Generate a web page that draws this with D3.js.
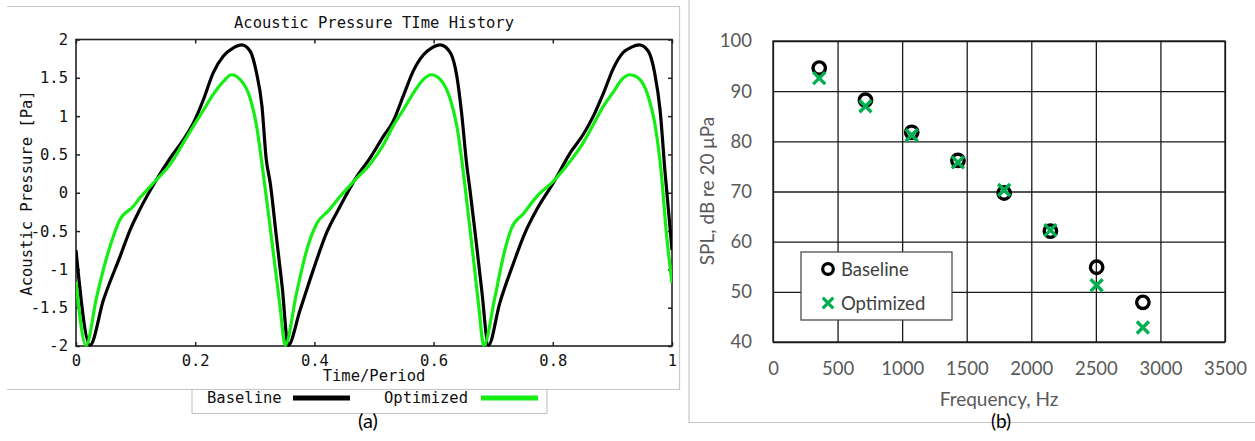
<!DOCTYPE html>
<html>
<head>
<meta charset="utf-8">
<script src="https://cdn.jsdelivr.net/npm/d3@7"></script>
<style>
  body { margin: 0; background: #fff; }
  svg { display: block; }
  .mono { font-family: "DejaVu Sans Mono", monospace; }
  .cal { font-family: Lato, "Open Sans", sans-serif; }
</style>
</head>
<body>
<svg id="fig" width="1255" height="441"></svg>
<script>
// (a) acoustic pressure time history, [time/period, pressure Pa]
var baseline = [
  [0, -0.75], [0.0235, -1.99], [0.046, -1.40], [0.074, -0.83], [0.091, -0.48], [0.107, -0.22],
  [0.135, 0.17], [0.158, 0.45], [0.18, 0.69], [0.197, 0.91], [0.214, 1.22], [0.230, 1.56],
  [0.247, 1.78], [0.264, 1.89], [0.278, 1.93], [0.292, 1.85], [0.303, 1.56], [0.312, 1.13],
  [0.319, 0.45], [0.326, 0.12], [0.336, -0.56], [0.346, -1.23], [0.356, -1.99],
  [0.376, -1.53], [0.398, -1.01], [0.42, -0.53], [0.443, -0.18], [0.471, 0.21], [0.493, 0.45],
  [0.516, 0.74], [0.532, 0.93], [0.549, 1.26], [0.566, 1.59], [0.583, 1.80], [0.597, 1.89],
  [0.611, 1.93], [0.628, 1.83], [0.639, 1.52], [0.647, 1.04], [0.6555, 0.37], [0.661, 0.04],
  [0.671, -0.61], [0.681, -1.29], [0.692, -1.99],
  [0.711, -1.44], [0.734, -0.92], [0.753, -0.53], [0.773, -0.22], [0.801, 0.13], [0.830, 0.53],
  [0.851, 0.76], [0.868, 1.0], [0.885, 1.30], [0.902, 1.63], [0.918, 1.83], [0.932, 1.90],
  [0.945, 1.93], [0.960, 1.85], [0.971, 1.56], [0.980, 1.08], [0.988, 0.30], [0.997, -0.48],
  [1.0, -0.75]
];
var optimized = [
  [0, -1.16], [0.0168, -1.99], [0.0347, -1.36], [0.0487, -0.92], [0.0626, -0.57], [0.0738, -0.35],
  [0.096, -0.18], [0.107, -0.07], [0.135, 0.17], [0.158, 0.37], [0.18, 0.65], [0.197, 0.87],
  [0.214, 1.08], [0.230, 1.28], [0.247, 1.45], [0.261, 1.54], [0.275, 1.48], [0.292, 1.24],
  [0.303, 0.87], [0.314, 0.26], [0.322, -0.22], [0.332, -0.84], [0.342, -1.46], [0.351, -1.99],
  [0.370, -1.31], [0.387, -0.75], [0.404, -0.40], [0.423, -0.24], [0.443, -0.05], [0.471, 0.19],
  [0.493, 0.37], [0.516, 0.63], [0.532, 0.87], [0.549, 1.08], [0.566, 1.30], [0.583, 1.48],
  [0.596, 1.54], [0.611, 1.48], [0.628, 1.22], [0.639, 0.87], [0.650, 0.26], [0.658, -0.27],
  [0.668, -0.94], [0.676, -1.50], [0.684, -1.99],
  [0.703, -1.36], [0.717, -0.83], [0.731, -0.46], [0.751, -0.27], [0.773, -0.05], [0.801, 0.15],
  [0.829, 0.41], [0.851, 0.65], [0.868, 0.89], [0.885, 1.13], [0.902, 1.32], [0.916, 1.48],
  [0.930, 1.54], [0.943, 1.50], [0.960, 1.26], [0.971, 0.91], [0.982, 0.26], [0.990, -0.48],
  [1.0, -1.18]
];
var timeTicks = [0, 0.2, 0.4, 0.6, 0.8, 1];
var pressureTicks = [-2, -1.5, -1, -0.5, 0, 0.5, 1, 1.5, 2];

// (b) SPL at harmonics
var freqHz = [358, 716, 1074, 1432, 1790, 2148, 2506, 2864];
var splBaseline = [94.6, 88.2, 81.8, 76.2, 69.7, 62.1, 54.9, 47.9];
var splOptimized = [92.6, 87.0, 81.2, 75.8, 70.3, 62.3, 51.3, 42.9];
var freqTicks = [0, 500, 1000, 1500, 2000, 2500, 3000, 3500];
var splTicks = [40, 50, 60, 70, 80, 90, 100];

var svg = d3.select("#fig");

// ---------- panel (a) ----------
var frame = "#c8c8c8";
svg.append("path").attr("fill", "none").attr("stroke", frame).attr("stroke-width", 1.2)
   .attr("d", "M7,6.5H679.5V389.5H7");
svg.append("rect").attr("x", 192).attr("y", 389.5).attr("width", 355).attr("height", 24)
   .attr("fill", "#fff").attr("stroke", frame).attr("stroke-width", 1.2);

var xa = d3.scaleLinear().domain([0, 1]).range([76, 672]);
var ya = d3.scaleLinear().domain([-2, 2]).range([346, 39.5]);

var ga = svg.append("g").attr("class", "mono");
ga.append("defs").append("clipPath").attr("id", "clipA")
  .append("rect").attr("x", 76).attr("y", 38).attr("width", 596).attr("height", 309);

function styleAxis(g) {
  g.select(".domain").remove();
  g.selectAll("line").attr("stroke", "#222").attr("stroke-width", 1.5);
  g.selectAll("text").attr("fill", "#111").style("font-size", "15.5px").attr("font-family", "DejaVu Sans Mono");
}

ga.append("g").attr("transform", "translate(0,346)")
  .call(d3.axisBottom(xa).tickValues(timeTicks).tickSize(-4).tickPadding(9).tickFormat(d3.format("")))
  .call(styleAxis);
ga.append("g").attr("transform", "translate(0,39.5)")
  .call(d3.axisTop(xa).tickValues(timeTicks).tickSize(-4).tickFormat(""))
  .call(styleAxis);
ga.append("g").attr("transform", "translate(76,0)")
  .call(d3.axisLeft(ya).tickValues(pressureTicks).tickSize(-4).tickPadding(8).tickFormat(d3.format("")))
  .call(styleAxis);
ga.append("g").attr("transform", "translate(672,0)")
  .call(d3.axisRight(ya).tickValues(pressureTicks).tickSize(-4).tickFormat(""))
  .call(styleAxis);
ga.selectAll(".tick text").text(function () { return this.textContent.replace("\u2212", "-"); });

ga.append("rect").attr("x", 76).attr("y", 39.5).attr("width", 596).attr("height", 306.5)
  .attr("fill", "none").attr("stroke", "#222").attr("stroke-width", 1.6);

var lineA = d3.line().x(function (d) { return xa(d[0]); }).y(function (d) { return ya(d[1]); })
  .curve(d3.curveMonotoneX);
ga.append("path").datum(baseline).attr("clip-path", "url(#clipA)")
  .attr("fill", "none").attr("stroke", "#000").attr("stroke-width", 3.2).attr("d", lineA);
ga.append("path").datum(optimized).attr("clip-path", "url(#clipA)")
  .attr("fill", "none").attr("stroke", "#14ee14").attr("stroke-width", 3.2).attr("d", lineA);

ga.append("text").attr("x", 374).attr("y", 28).attr("text-anchor", "middle")
  .style("font-size", "15.5px").attr("fill", "#111").text("Acoustic Pressure TIme History");
ga.append("text").attr("transform", "translate(32,193) rotate(-90)").attr("text-anchor", "middle")
  .style("font-size", "15.5px").attr("fill", "#111").text("Acoustic Pressure [Pa]");
ga.append("text").attr("x", 374).attr("y", 381).attr("text-anchor", "middle")
  .style("font-size", "15.5px").attr("fill", "#111").text("Time/Period");

// legend (a)
var legA = [{ name: "Baseline", color: "#000", tx: 207, lx: 293 },
            { name: "Optimized", color: "#14ee14", tx: 384, lx: 481 }];
legA.forEach(function (d) {
  ga.append("text").attr("x", d.tx).attr("y", 403).style("font-size", "15.5px")
    .attr("fill", "#111").text(d.name);
  ga.append("line").attr("x1", d.lx).attr("x2", d.lx + 57).attr("y1", 398).attr("y2", 398)
    .attr("stroke", d.color).attr("stroke-width", 5);
});

svg.append("text").attr("class", "cal").attr("x", 368).attr("y", 428).attr("text-anchor", "middle")
  .style("font-size", "20px").attr("fill", "#000").text("(a)");

// ---------- panel (b) ----------
svg.append("path").attr("fill", "none").attr("stroke", frame).attr("stroke-width", 1.2)
   .attr("d", "M689,0V422.5H1255");

var xb = d3.scaleLinear().domain([0, 3500]).range([773, 1225]);
var yb = d3.scaleLinear().domain([40, 100]).range([342, 41]);
var gb = svg.append("g").attr("class", "cal");

function styleGrid(g) {
  g.select(".domain").remove();
  g.selectAll("line").attr("stroke", "#1a1a1a").attr("stroke-width", 1.3);
  g.selectAll("text").attr("fill", "#595959").style("font-size", "18.5px").attr("font-family", "Lato, sans-serif");
}
gb.append("g").attr("transform", "translate(0,342)")
  .call(d3.axisBottom(xb).tickValues(freqTicks).tickSize(-301).tickPadding(20).tickFormat(d3.format("d")))
  .call(styleGrid);
gb.append("g").attr("transform", "translate(773,0)")
  .call(d3.axisLeft(yb).tickValues(splTicks).tickSize(-452).tickPadding(21).tickFormat(d3.format("d")))
  .call(styleGrid);
gb.append("rect").attr("x", 773).attr("y", 41).attr("width", 452).attr("height", 301)
  .attr("fill", "none").attr("stroke", "#1a1a1a").attr("stroke-width", 1.3);

gb.append("text").attr("x", 999).attr("y", 406).attr("text-anchor", "middle")
  .style("font-size", "19px").attr("fill", "#595959").text("Frequency, Hz");
gb.append("text").attr("transform", "translate(714,191) rotate(-90)").attr("text-anchor", "middle")
  .style("font-size", "19px").attr("fill", "#595959").text("SPL, dB re 20 \u03bcPa");

var green = "#00b050";
function crossPath(cx, cy, s) {
  return "M" + (cx - s) + "," + (cy - s) + "L" + (cx + s) + "," + (cy + s) +
         "M" + (cx - s) + "," + (cy + s) + "L" + (cx + s) + "," + (cy - s);
}
gb.selectAll(".base").data(freqHz).enter().append("circle")
  .attr("cx", function (d) { return xb(d); })
  .attr("cy", function (d, i) { return yb(splBaseline[i]); })
  .attr("r", 6.2).attr("fill", "none").attr("stroke", "#000").attr("stroke-width", 3.4);
gb.selectAll(".opt").data(freqHz).enter().append("path")
  .attr("d", function (d, i) { return crossPath(xb(d), yb(splOptimized[i]), 6); })
  .attr("fill", "none").attr("stroke", green).attr("stroke-width", 3.4);

// legend (b)
gb.append("rect").attr("x", 801).attr("y", 252).attr("width", 151).attr("height", 68)
  .attr("fill", "#fff").attr("stroke", "#404040").attr("stroke-width", 1.2);
gb.append("circle").attr("cx", 828).attr("cy", 269).attr("r", 5.3)
  .attr("fill", "none").attr("stroke", "#000").attr("stroke-width", 3.2);
gb.append("path").attr("d", crossPath(828, 303, 5.3)).attr("fill", "none")
  .attr("stroke", green).attr("stroke-width", 3.2);
gb.append("text").attr("x", 841).attr("y", 276).style("font-size", "18.5px").attr("fill", "#404040").text("Baseline");
gb.append("text").attr("x", 841).attr("y", 310).style("font-size", "18.5px").attr("fill", "#404040").text("Optimized");

svg.append("text").attr("class", "cal").attr("x", 1001).attr("y", 428).attr("text-anchor", "middle")
  .style("font-size", "19px").attr("fill", "#000").text("(b)");
</script>
</body>
</html>
